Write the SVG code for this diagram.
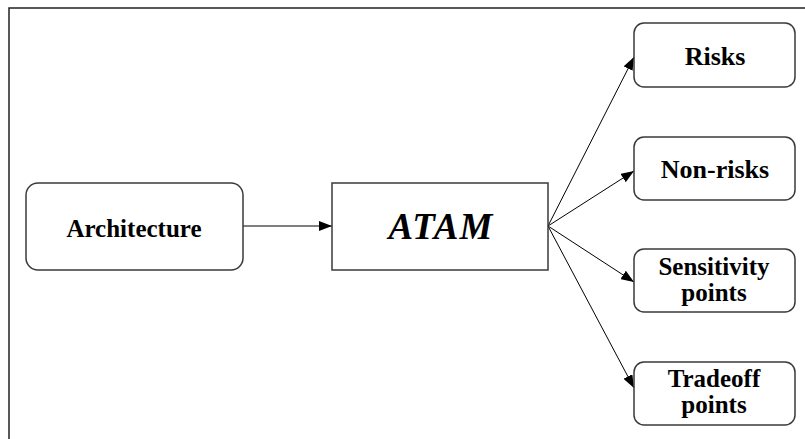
<svg xmlns="http://www.w3.org/2000/svg" width="805" height="439" viewBox="0 0 805 439">
<style>
.box{fill:#fff;stroke:#3a3a3a;stroke-width:1.5}
.lbl{font-family:"Liberation Serif","Times New Roman",serif;font-weight:bold;font-size:26px;fill:#000;text-anchor:middle}
.two{font-size:25px}
.conn{stroke:#000;stroke-width:1;fill:none;marker-end:url(#arr)}
</style>
<defs>
<marker id="arr" markerUnits="userSpaceOnUse" markerWidth="13" markerHeight="10" refX="13" refY="5" orient="auto">
<path d="M0,0 L13,5 L0,10 z" fill="#000"/>
</marker>
</defs>
<rect x="0" y="0" width="805" height="439" fill="#fff"/>
<rect x="9" y="8" width="820" height="450" fill="none" stroke="#222" stroke-width="1.5"/>
<g id="connectors">
<line class="conn" x1="243" y1="226" x2="332" y2="226"/>
<line class="conn" x1="548" y1="226" x2="634" y2="57"/>
<line class="conn" x1="548" y1="226" x2="634" y2="171"/>
<line class="conn" x1="548" y1="226" x2="634" y2="282"/>
<line class="conn" x1="548" y1="226" x2="634" y2="388"/>
</g>
<g id="architecture">
<rect class="box" x="26" y="183" width="217" height="87" rx="12"/>
<text class="lbl" x="134" y="237" style="font-size:25px">Architecture</text>
</g>
<g id="atam">
<rect class="box" x="332" y="183" width="216" height="87"/>
<text class="lbl" x="441" y="239" style="font-size:37px;font-style:italic;letter-spacing:1px">ATAM</text>
</g>
<g id="risks">
<rect class="box" x="634" y="23" width="161" height="64" rx="10"/>
<text class="lbl" x="715" y="65">Risks</text>
</g>
<g id="nonrisks">
<rect class="box" x="634" y="137" width="161" height="63" rx="10"/>
<text class="lbl" x="715" y="178">Non-risks</text>
</g>
<g id="sensitivity">
<rect class="box" x="634" y="249" width="161" height="63" rx="10"/>
<text class="lbl two" x="714" y="275">Sensitivity</text>
<text class="lbl two" x="714" y="301">points</text>
</g>
<g id="tradeoff">
<rect class="box" x="634" y="362" width="161" height="63" rx="10"/>
<text class="lbl two" x="714" y="387">Tradeoff</text>
<text class="lbl two" x="714" y="413">points</text>
</g>
</svg>
